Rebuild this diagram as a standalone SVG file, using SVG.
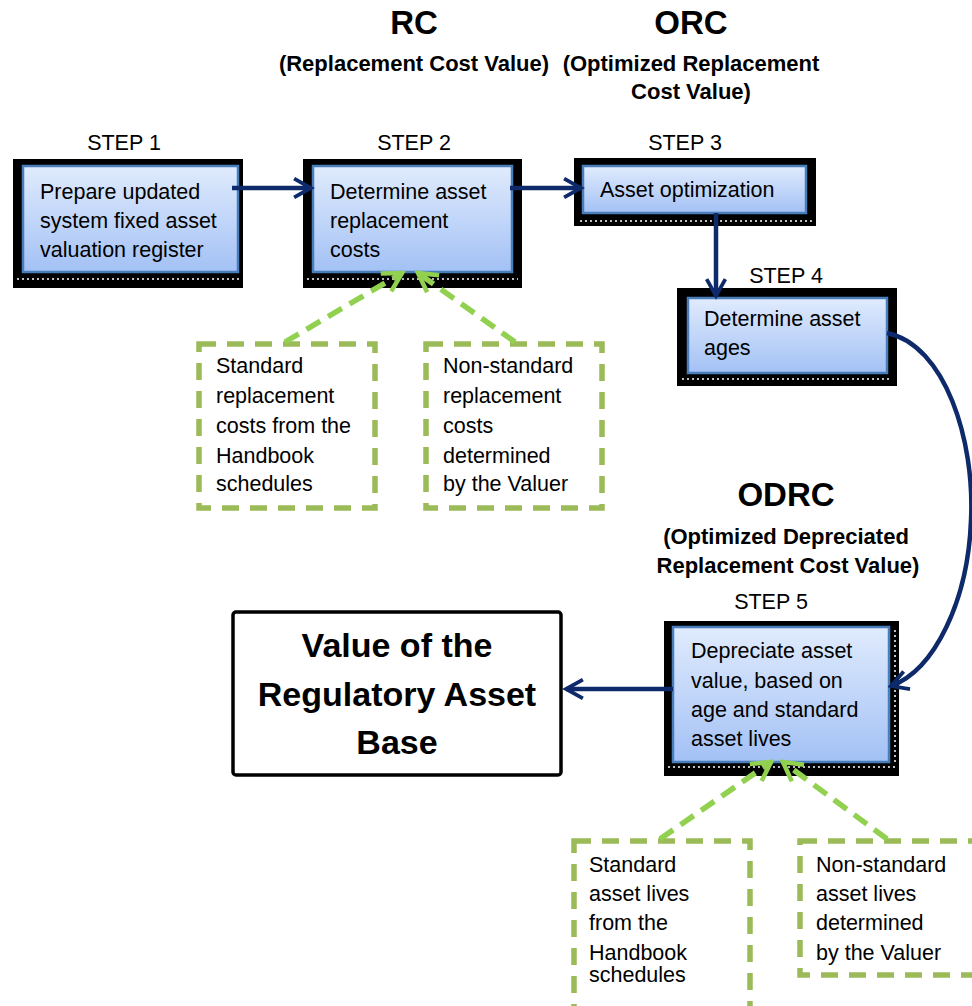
<svg xmlns="http://www.w3.org/2000/svg" width="972" height="1006" viewBox="0 0 972 1006">
<style>
text{font-family:"Liberation Sans",Arial,sans-serif;fill:#000}
.t{font-size:21.5px}
.h{font-size:22px;font-weight:bold}
.big{font-size:33px;font-weight:bold}
.res{font-size:34px;font-weight:bold}
.frame{fill:#000}
.blue{fill:url(#g);stroke:#4A7EBB;stroke-width:2.5}
.dots{stroke:#fff;stroke-width:1.5;stroke-dasharray:2 3;fill:none}
.dash{fill:none;stroke:#9BBB59;stroke-width:5.5;stroke-dasharray:17 11}
.nav{fill:none;stroke:#0E2A6B;stroke-width:4.5}
.grn{fill:none;stroke:#92D050;stroke-width:5.5;stroke-dasharray:16 9}
</style>
<defs>
<linearGradient id="g" x1="0" y1="0" x2="0" y2="1">
<stop offset="0" stop-color="#E0EBFD"/>
<stop offset="1" stop-color="#A3C1F5"/>
</linearGradient>
<marker id="an" viewBox="0 0 12 12" refX="10" refY="6" markerWidth="5" markerHeight="5" orient="auto" markerUnits="strokeWidth">
<path d="M1,1 L10,6 L1,11" fill="none" stroke="#0E2A6B" stroke-width="2"/>
</marker>
<marker id="ag" viewBox="0 0 12 12" refX="10" refY="6" markerWidth="4.5" markerHeight="4.5" orient="auto" markerUnits="strokeWidth">
<path d="M1,1 L10,6 L1,11" fill="none" stroke="#92D050" stroke-width="2.2"/>
</marker>
</defs>
<rect width="972" height="1006" fill="#fff"/>

<g id="headers">
<text class="big" x="414" y="34" text-anchor="middle">RC</text>
<text class="h" x="414" y="71" text-anchor="middle">(Replacement Cost Value)</text>
<text class="big" x="691" y="34" text-anchor="middle">ORC</text>
<text class="h" x="691" y="71" text-anchor="middle">(Optimized Replacement</text>
<text class="h" x="691" y="99" text-anchor="middle">Cost Value)</text>
<text class="big" x="786" y="506" text-anchor="middle">ODRC</text>
<text class="h" x="786" y="544" text-anchor="middle">(Optimized Depreciated</text>
<text class="h" x="788" y="573" text-anchor="middle">Replacement Cost Value)</text>
</g>

<g id="step1">
<text class="t" x="124" y="150" text-anchor="middle">STEP 1</text>
<rect class="frame" x="13" y="159" width="230" height="129"/>
<rect class="blue" x="23" y="166" width="215" height="106"/>
<line class="dots" x1="17" y1="279" x2="240" y2="279"/>
<text class="t" x="40" y="199">Prepare updated</text>
<text class="t" x="40" y="228">system fixed asset</text>
<text class="t" x="40" y="257">valuation register</text>
</g>

<g id="step2">
<text class="t" x="414" y="150" text-anchor="middle">STEP 2</text>
<rect class="frame" x="303" y="159" width="219" height="129"/>
<rect class="blue" x="313" y="166" width="199" height="106"/>
<line class="dots" x1="307" y1="279" x2="518" y2="279"/>
<text class="t" x="330" y="199">Determine asset</text>
<text class="t" x="330" y="228">replacement</text>
<text class="t" x="330" y="257">costs</text>
</g>

<g id="step3">
<text class="t" x="685" y="150" text-anchor="middle">STEP 3</text>
<rect class="frame" x="574" y="158" width="242" height="68"/>
<rect class="blue" x="583" y="166" width="223" height="47"/>
<line class="dots" x1="580" y1="221" x2="812" y2="221"/>
<text class="t" x="600" y="197">Asset optimization</text>
</g>

<g id="step4">
<text class="t" x="786" y="283" text-anchor="middle">STEP 4</text>
<rect class="frame" x="677" y="288" width="220" height="98"/>
<rect class="blue" x="688" y="298" width="199" height="75"/>
<line class="dots" x1="682" y1="379" x2="892" y2="379"/>
<text class="t" x="704" y="326">Determine asset</text>
<text class="t" x="704" y="355">ages</text>
</g>

<g id="step5">
<text class="t" x="771" y="609" text-anchor="middle">STEP 5</text>
<rect class="frame" x="664" y="621" width="235" height="155"/>
<rect class="blue" x="673" y="627" width="216" height="135"/>
<line class="dots" x1="668" y1="767" x2="895" y2="767"/>
<line class="dots" x1="895" y1="630" x2="895" y2="762" stroke-dasharray="2 11"/>
<text class="t" x="691" y="658">Depreciate asset</text>
<text class="t" x="691" y="688">value, based on</text>
<text class="t" x="691" y="717">age and standard</text>
<text class="t" x="691" y="746">asset lives</text>
</g>

<g id="result">
<rect x="233" y="612" width="328" height="163" rx="3" fill="#fff" stroke="#000" stroke-width="3.5"/>
<text class="res" x="397" y="657" text-anchor="middle">Value of the</text>
<text class="res" x="397" y="706" text-anchor="middle">Regulatory Asset</text>
<text class="res" x="397" y="754" text-anchor="middle">Base</text>
</g>

<g id="note-std-cost">
<rect class="dash" x="199" y="344" width="176" height="164"/>
<text class="t" x="216" y="373">Standard</text>
<text class="t" x="216" y="403">replacement</text>
<text class="t" x="216" y="433">costs from the</text>
<text class="t" x="216" y="463">Handbook</text>
<text class="t" x="216" y="491">schedules</text>
</g>

<g id="note-nonstd-cost">
<rect class="dash" x="426" y="344" width="176" height="164"/>
<text class="t" x="443" y="373">Non-standard</text>
<text class="t" x="443" y="403">replacement</text>
<text class="t" x="443" y="433">costs</text>
<text class="t" x="443" y="463">determined</text>
<text class="t" x="443" y="491">by the Valuer</text>
</g>

<g id="note-std-lives">
<rect class="dash" x="574" y="841" width="176" height="180"/>
<text class="t" x="589" y="872">Standard</text>
<text class="t" x="589" y="901">asset lives</text>
<text class="t" x="589" y="930">from the</text>
<text class="t" x="589" y="960">Handbook</text>
<text class="t" x="589" y="982">schedules</text>
</g>

<g id="note-nonstd-lives">
<rect class="dash" x="800" y="841" width="190" height="134"/>
<text class="t" x="816" y="872">Non-standard</text>
<text class="t" x="816" y="901">asset lives</text>
<text class="t" x="816" y="930">determined</text>
<text class="t" x="816" y="960">by the Valuer</text>
</g>

<g id="connectors">
<line class="nav" x1="232" y1="188" x2="311" y2="188" marker-end="url(#an)"/>
<line class="nav" x1="510" y1="188" x2="581" y2="188" marker-end="url(#an)"/>
<line class="nav" x1="716" y1="213" x2="716" y2="296" marker-end="url(#an)"/>
<path class="nav" d="M887,333 C945,345 975,440 971,520 C968,600 935,670 891,686" marker-end="url(#an)"/>
<line class="nav" x1="673" y1="689" x2="566" y2="689" marker-end="url(#an)"/>
<line class="grn" x1="285" y1="342" x2="402" y2="273" marker-end="url(#ag)"/>
<line class="grn" x1="515" y1="342" x2="418" y2="273" marker-end="url(#ag)"/>
<line class="grn" x1="660" y1="839" x2="771" y2="762" marker-end="url(#ag)"/>
<line class="grn" x1="887" y1="839" x2="783" y2="762" marker-end="url(#ag)"/>
</g>
</svg>
